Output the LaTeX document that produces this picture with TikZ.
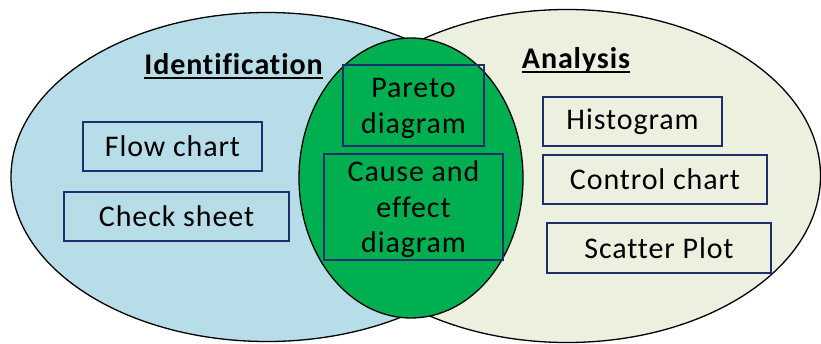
\documentclass[tikz,border=0pt]{standalone}
\usepackage{fontspec}
\setmainfont{Carlito}[LetterSpace=3,Ligatures=NoCommon]
\definecolor{leftblue}{HTML}{B7DDE8}
\definecolor{rightgreen}{HTML}{EBF1DE}
\definecolor{midgreen}{HTML}{00B050}
\definecolor{boxnavy}{HTML}{1F2F6B}
\newcommand\titleul[1]{\setbox0\hbox{#1}\rlap{\rule[-4.6pt]{\wd0}{1.8pt}}\box0}
\newcommand\bigtext{\fontsize{30}{35.5}\selectfont}
\newcommand\lowlines[1]{\raisebox{-3pt}[\height][\depth]{\begin{tabular}{@{}c@{}}#1\end{tabular}}}
\tikzset{
  setarea/.style={draw=black, line width=1.3pt},
  toolbox/.style={draw=boxnavy, line width=1.6pt, inner sep=0pt, align=center, font=\bigtext},
  titletext/.style={inner sep=0pt, anchor=base, font=\bigtext\bfseries}
}
\begin{document}
\begin{tikzpicture}[x=1pt,y=-1pt]
\useasboundingbox (0,0) rectangle (821,343);
% sets
\path[setarea, fill=leftblue] (267,177) ellipse [x radius=256pt, y radius=164.5pt];
\path[setarea, fill=rightgreen] (567,176) ellipse [x radius=253.5pt, y radius=166.5pt];
\path[setarea, fill=midgreen] (411,178) ellipse [x radius=112pt, y radius=140pt];
% titles
\node[titletext] (ident) at (233.5,74) {\titleul{Identification}};
\node[titletext] (anal) at (576,68) {\titleul{Analysis}};
% left boxes
\node[toolbox, minimum width=179pt, minimum height=49pt] (flow) at (172.5,146.5) {Flow chart};
\node[toolbox, minimum width=225pt, minimum height=49pt] (check) at (176.5,216.5) {Check sheet};
% middle boxes
\node[toolbox, minimum width=141pt, minimum height=81pt] (pareto) at (413.5,105.5) {\lowlines{Pareto\\diagram}};
\node[toolbox, minimum width=179pt, minimum height=104pt] (cause) at (413.5,207) {\lowlines{Cause and\\effect\\diagram}};
% right boxes
\node[toolbox, minimum width=179pt, minimum height=49pt] (hist) at (632.5,121.5) {Histogram};
\node[toolbox, minimum width=224pt, minimum height=49pt] (control) at (655,179.5) {Control chart};
\node[toolbox, minimum width=224pt, minimum height=50pt] (scatter) at (659,248) {Scatter Plot};
\end{tikzpicture}
\end{document}
